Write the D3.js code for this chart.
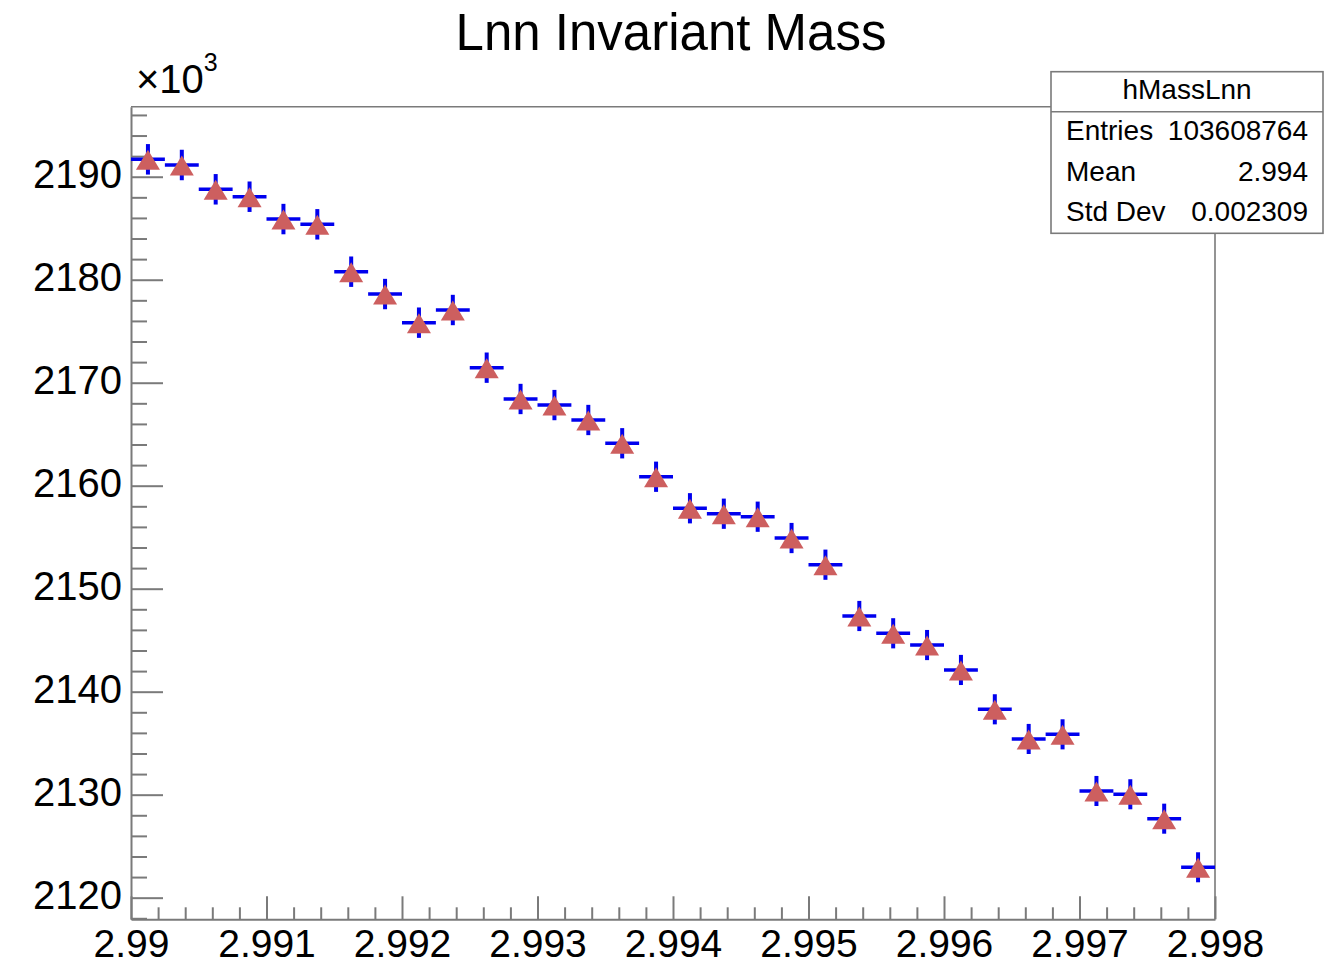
<!DOCTYPE html>
<html>
<head>
<meta charset="utf-8">
<script src="https://cdn.jsdelivr.net/npm/d3@7"></script>
<style>
  html, body { margin: 0; padding: 0; background: #fff; }
  svg { display: block; font-family: "Liberation Sans", Arial, Helvetica, sans-serif; }
</style>
</head>
<body>
<svg id="chart" width="1330" height="966"></svg>
<script>
// ---- data (counts in units of 10^3) ----
const title = "Lnn Invariant Mass";
const histName = "hMassLnn";
const xRangeLimits = [2.99, 2.998];
const countsK = [
  2191.69, 2191.14, 2188.78, 2188.06, 2185.89, 2185.38, 2180.78, 2178.61,
  2175.83, 2177.06, 2171.46, 2168.42, 2167.83, 2166.38, 2164.12, 2160.87,
  2157.81, 2157.28, 2156.99, 2154.92, 2152.33, 2147.35, 2145.67, 2144.53,
  2142.11, 2138.29, 2135.41, 2135.86, 2130.36, 2130.04, 2127.67, 2122.95
];
const xTickLabels = ["2.99", "2.991", "2.992", "2.993", "2.994", "2.995", "2.996", "2.997", "2.998"];
const yTickLabels = ["2120", "2130", "2140", "2150", "2160", "2170", "2180", "2190"];
const statLabels = ["Entries", "Mean", "Std Dev"];
const statValues = ["103608764", "2.994", "0.002309"];
const yRangeLimits = [2117.9, 2196.8];

// ---- layout ----
const frame = { left: 131, right: 1215, top: 106.7, bottom: 919.3 };
const svg = d3.select("#chart");
const axisColor = "#7a7a7a";

const x = d3.scaleLinear().domain(xRangeLimits).range([frame.left, frame.right]);
const y = d3.scaleLinear().domain(yRangeLimits).range([frame.bottom, frame.top]);

const nBins = countsK.length;
const binW = (xRangeLimits[1] - xRangeLimits[0]) / nBins;
const bins = countsK.map((v, i) => ({
  lo: xRangeLimits[0] + i * binW,
  hi: xRangeLimits[0] + (i + 1) * binW,
  c: xRangeLimits[0] + (i + 0.5) * binW,
  v: v,
  e: Math.sqrt(v * 1000) / 1000
}));

// frame (top & right lines)
svg.append("path")
  .attr("d", `M${frame.left},${frame.top}H${frame.right}V${frame.bottom}`)
  .attr("fill", "none").attr("stroke", axisColor).attr("stroke-width", 1.6);

// x axis
const xMajor = xTickLabels.map(Number);
const xMinor = d3.range(0, 41).map(i => xRangeLimits[0] + i * 0.0002).filter(t => !xMajor.some(m => Math.abs(m - t) < 1e-9));
const xAxisMaj = d3.axisBottom(x).tickValues(xMajor).tickSizeInner(-23).tickSizeOuter(0)
  .tickFormat((d, i) => xTickLabels[i]);
const gx = svg.append("g").attr("transform", `translate(0,${frame.bottom})`).call(xAxisMaj);
gx.select(".domain").attr("stroke", axisColor).attr("stroke-width", 2);
gx.selectAll(".tick line").attr("stroke", axisColor).attr("stroke-width", 2);
gx.selectAll(".tick text").attr("fill", "#000").attr("font-size", 39)
  .attr("font-family", "Liberation Sans, Arial, sans-serif").attr("y", 38).attr("dy", null);
const gxm = svg.append("g").attr("transform", `translate(0,${frame.bottom})`)
  .call(d3.axisBottom(x).tickValues(xMinor).tickSizeInner(-12).tickSizeOuter(0).tickFormat(""));
gxm.select(".domain").remove();
gxm.selectAll(".tick line").attr("stroke", axisColor).attr("stroke-width", 2);

// y axis
const yMajor = yTickLabels.map(Number);
const yMinor = d3.range(2118, 2197, 2).filter(t => t % 10 !== 0);
const gy = svg.append("g").attr("transform", `translate(${frame.left},0)`)
  .call(d3.axisLeft(y).tickValues(yMajor).tickSizeInner(-32).tickSizeOuter(0)
    .tickFormat((d, i) => yTickLabels[i]));
gy.select(".domain").attr("stroke", axisColor).attr("stroke-width", 2);
gy.selectAll(".tick line").attr("stroke", axisColor).attr("stroke-width", 2);
gy.selectAll(".tick text").attr("fill", "#000").attr("font-size", 40)
  .attr("font-family", "Liberation Sans, Arial, sans-serif").attr("x", -9).attr("dy", "0.27em");
const gym = svg.append("g").attr("transform", `translate(${frame.left},0)`)
  .call(d3.axisLeft(y).tickValues(yMinor).tickSizeInner(-16).tickSizeOuter(0).tickFormat(""));
gym.select(".domain").remove();
gym.selectAll(".tick line").attr("stroke", axisColor).attr("stroke-width", 2);

// exponent label
const expo = svg.append("text").attr("x", 136).attr("y", 93).attr("font-size", 40).attr("fill", "#000");
expo.append("tspan").text("×10");
expo.append("tspan").attr("font-size", 25).attr("dy", -22).text("3");

// title
svg.append("text").attr("x", 671).attr("y", 50).attr("text-anchor", "middle")
  .attr("font-size", 51).attr("fill", "#000").text(title);

// error bars
const blue = "#0000ee";
const g = svg.append("g");
g.selectAll("line.h").data(bins).join("line").attr("class", "h")
  .attr("x1", d => x(d.lo)).attr("x2", d => x(d.hi))
  .attr("y1", d => y(d.v)).attr("y2", d => y(d.v))
  .attr("stroke", blue).attr("stroke-width", 3.5);
g.selectAll("line.v").data(bins).join("line").attr("class", "v")
  .attr("x1", d => x(d.c)).attr("x2", d => x(d.c))
  .attr("y1", d => y(d.v + d.e)).attr("y2", d => y(d.v - d.e))
  .attr("stroke", blue).attr("stroke-width", 4);

// markers (triangle up)
const tw = 12, tUp = 9.5, tDown = 10.5;
g.selectAll("path.m").data(bins).join("path").attr("class", "m")
  .attr("d", d => {
    const cx = x(d.c), cy = y(d.v);
    const p = d3.path();
    p.moveTo(cx, cy - tUp);
    p.lineTo(cx + tw, cy + tDown);
    p.lineTo(cx - tw, cy + tDown);
    p.closePath();
    return p.toString();
  })
  .attr("fill", "#cd5f5f");

// stats box
const box = { x0: 1051, x1: 1323, y0: 71.7, y1: 233.3, sep: 111.7 };
svg.append("rect").attr("x", box.x0).attr("y", box.y0)
  .attr("width", box.x1 - box.x0).attr("height", box.y1 - box.y0)
  .attr("fill", "#fff").attr("stroke", axisColor).attr("stroke-width", 1.6);
svg.append("line").attr("x1", box.x0).attr("x2", box.x1).attr("y1", box.sep).attr("y2", box.sep)
  .attr("stroke", axisColor).attr("stroke-width", 1.6);
svg.append("text").attr("x", (box.x0 + box.x1) / 2).attr("y", 99).attr("text-anchor", "middle")
  .attr("font-size", 28).attr("fill", "#000").text(histName);
const rowY = [140, 181, 221];
statLabels.forEach((lab, i) => {
  svg.append("text").attr("x", 1066).attr("y", rowY[i]).attr("font-size", 28).attr("fill", "#000").text(lab);
  svg.append("text").attr("x", 1308).attr("y", rowY[i]).attr("text-anchor", "end")
    .attr("font-size", 28).attr("fill", "#000").text(statValues[i]);
});
</script>
</body>
</html>
